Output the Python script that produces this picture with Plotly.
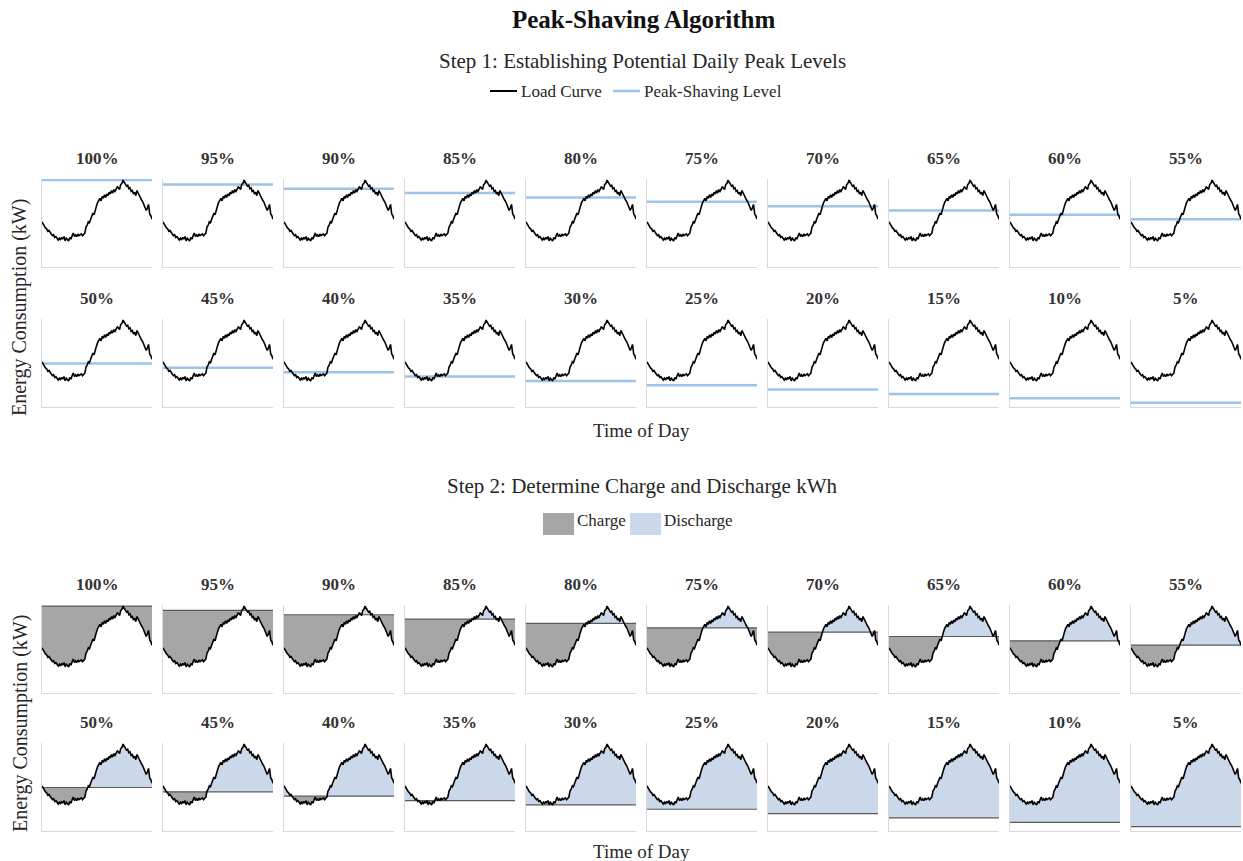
import plotly.graph_objects as go

# Daily load curve, 15-minute samples (kW)
load_kw = [52, 49, 48, 45, 44, 41, 42, 39, 38, 36, 37, 34, 35, 33, 31, 33,
           31, 34, 32, 35, 30, 33, 31, 30, 34, 32, 36, 39, 35, 37, 35, 38,
           36, 37, 38, 36, 38, 39, 46, 48, 52, 51, 55, 58, 62, 60, 67, 70,
           74, 77, 79, 76, 81, 79, 83, 80, 84, 82, 86, 84, 88, 85, 89, 87,
           90, 92, 91, 89, 95, 96, 100, 97, 95, 93, 94, 90, 91, 87, 88, 84,
           86, 82, 88, 85, 81, 80, 77, 75, 72, 70, 65, 68, 72, 61, 59, 55]
intervals = list(range(len(load_kw)))

# Candidate peak-shaving levels as a share of the daily peak
levels_pct = [100, 95, 90, 85, 80, 75, 70, 65, 60, 55,
              50, 45, 40, 35, 30, 25, 20, 15, 10, 5]
level_labels = [f"{p}%" for p in levels_pct]

W, H = 1243, 861
FONT = "Liberation Serif"
COL_LEFT, COL_PITCH, COL_W = 42, 121, 110
ROW_TOPS = [179, 319, 605, 743]
ROW_H = 88

LOAD_COLOR = "#000000"
LEVEL_COLOR = "#9dc3e6"
STEP2_LEVEL_COLOR = "#5a5a5a"
CHARGE_COLOR = "#a6a6a6"
DISCHARGE_COLOR = "#cad8ea"
AXIS_COLOR = "#d9d9d9"


def px(x):
    return x / W


def py(y):
    return 1 - y / H


peak = max(load_kw)

fig = go.Figure()
layout_axes = {}
annotations = []
shapes = []


def split_at_level(xs, ys, level):
    """Insert the points where the curve crosses the level line."""
    rx, ry = [xs[0]], [ys[0]]
    for i in range(1, len(xs)):
        y0, y1 = ys[i - 1], ys[i]
        if (y0 - level) * (y1 - level) < 0:
            t = (level - y0) / (y1 - y0)
            rx.append(xs[i - 1] + t * (xs[i] - xs[i - 1]))
            ry.append(level)
        rx.append(xs[i])
        ry.append(ys[i])
    return rx, ry


n = 0
for step in range(2):
    for k, pct in enumerate(levels_pct):
        n += 1
        row = step * 2 + k // 10
        col = k % 10
        left = COL_LEFT + COL_PITCH * col
        top = ROW_TOPS[row]
        xa = "x" if n == 1 else f"x{n}"
        ya = "y" if n == 1 else f"y{n}"
        xkey = "xaxis" if n == 1 else f"xaxis{n}"
        ykey = "yaxis" if n == 1 else f"yaxis{n}"
        axis_style = dict(showgrid=False, zeroline=False, showticklabels=False,
                          ticks="", showline=True, linecolor=AXIS_COLOR,
                          linewidth=1, fixedrange=True)
        layout_axes[xkey] = dict(domain=[px(left), px(left + COL_W)],
                                 anchor=ya, range=[0, len(load_kw) - 1],
                                 **axis_style)
        layout_axes[ykey] = dict(domain=[py(top + ROW_H), py(top)],
                                 anchor=xa, range=[0, peak * 1.012],
                                 **axis_style)
        level = peak * pct / 100.0

        if step == 1:
            rx, ry = split_at_level(intervals, load_kw, level)
            lo = [min(v, level) for v in ry]
            hi = [max(v, level) for v in ry]
            base = [level] * len(rx)
            fig.add_trace(go.Scatter(
                x=rx + rx[::-1], y=lo + base[::-1], fill="toself",
                fillcolor=CHARGE_COLOR, line=dict(width=0), mode="lines",
                hoverinfo="skip", showlegend=False, xaxis=xa, yaxis=ya))
            fig.add_trace(go.Scatter(
                x=rx + rx[::-1], y=hi + base[::-1], fill="toself",
                fillcolor=DISCHARGE_COLOR, line=dict(width=0), mode="lines",
                hoverinfo="skip", showlegend=False, xaxis=xa, yaxis=ya))
            fig.add_trace(go.Scatter(
                x=[intervals[0], intervals[-1]], y=[level, level], mode="lines",
                line=dict(color=STEP2_LEVEL_COLOR, width=1.2),
                showlegend=False, xaxis=xa, yaxis=ya))
            fig.add_trace(go.Scatter(
                x=intervals, y=load_kw, mode="lines",
                line=dict(color=LOAD_COLOR, width=1.6),
                showlegend=False, xaxis=xa, yaxis=ya))
        else:
            fig.add_trace(go.Scatter(
                x=[intervals[0], intervals[-1]], y=[level, level], mode="lines",
                line=dict(color=LEVEL_COLOR, width=2.5),
                showlegend=False, xaxis=xa, yaxis=ya))
            fig.add_trace(go.Scatter(
                x=intervals, y=load_kw, mode="lines",
                line=dict(color=LOAD_COLOR, width=1.6),
                showlegend=False, xaxis=xa, yaxis=ya))

        annotations.append(dict(
            x=px(left + COL_W / 2), y=py(top - 21), xref="paper", yref="paper",
            text=f"<b>{level_labels[k]}</b>", showarrow=False,
            font=dict(family=FONT, size=17, color="#333333"),
            xanchor="center", yanchor="middle"))


def text_at(x, y, text, size, anchor="center", angle=0, color="#262626"):
    annotations.append(dict(
        x=px(x), y=py(y), xref="paper", yref="paper", text=text,
        showarrow=False, font=dict(family=FONT, size=size, color=color),
        xanchor=anchor, yanchor="middle", textangle=angle))


text_at(643, 19, "<b>Peak-Shaving Algorithm</b>", 25, color="#111111")
text_at(642, 61, "Step 1: Establishing Potential Daily Peak Levels", 21)
text_at(642, 486, "Step 2: Determine Charge and Discharge kWh", 21)
text_at(641, 430, "Time of Day", 19)
text_at(641, 851, "Time of Day", 19)
text_at(20, 308, "Energy Consumption (kW)", 20, angle=-90)
text_at(20, 724, "Energy Consumption (kW)", 20, angle=-90)

# Step 1 legend
shapes.append(dict(type="line", xref="paper", yref="paper",
                   x0=px(490), x1=px(517), y0=py(91), y1=py(91),
                   line=dict(color=LOAD_COLOR, width=2)))
text_at(519, 91, "Load Curve", 17, anchor="left")
shapes.append(dict(type="line", xref="paper", yref="paper",
                   x0=px(613), x1=px(640), y0=py(91), y1=py(91),
                   line=dict(color=LEVEL_COLOR, width=2.5)))
text_at(642, 91, "Peak-Shaving Level", 17, anchor="left")

# Step 2 legend
shapes.append(dict(type="rect", xref="paper", yref="paper",
                   x0=px(543), x1=px(574), y0=py(535), y1=py(513),
                   fillcolor=CHARGE_COLOR, line=dict(width=0)))
text_at(575, 520, "Charge", 17, anchor="left")
shapes.append(dict(type="rect", xref="paper", yref="paper",
                   x0=px(630), x1=px(661), y0=py(535), y1=py(513),
                   fillcolor=DISCHARGE_COLOR, line=dict(width=0)))
text_at(662, 520, "Discharge", 17, anchor="left")

fig.update_layout(
    width=W, height=H,
    margin=dict(l=0, r=0, t=0, b=0),
    paper_bgcolor="white", plot_bgcolor="white",
    showlegend=False,
    annotations=annotations,
    shapes=shapes,
    font=dict(family=FONT),
    **layout_axes,
)

fig.write_html("out.html")
